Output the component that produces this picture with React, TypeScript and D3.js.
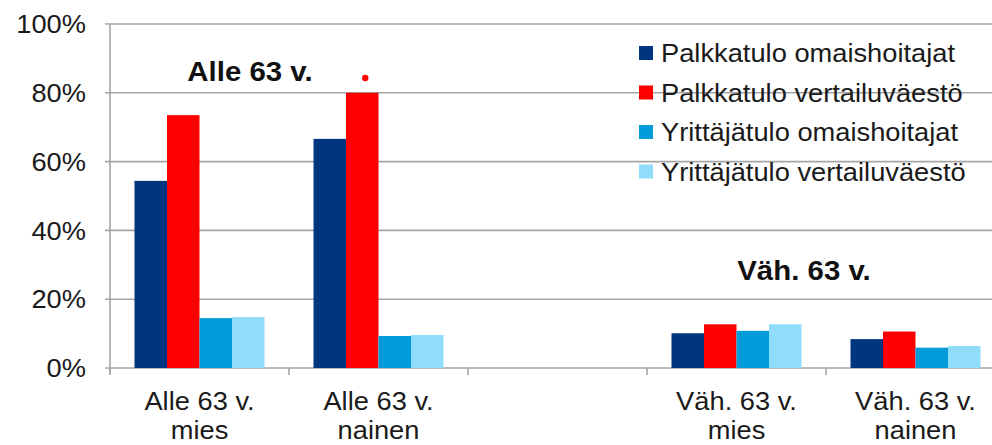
import React from 'react'
import * as d3 from 'd3'

const W = 992
const H = 445
const margin = {top: 24, right: -13, bottom: 77, left: 110}
const FONT = '"Liberation Sans", Arial, sans-serif'
const SX = 1.07 // the source picture is slightly stretched horizontally

// categories (the third slot is an empty gap in the original chart)
const categories = ['Alle 63 v.|mies', 'Alle 63 v.|nainen', '', 'Väh. 63 v.|mies', 'Väh. 63 v.|nainen']
const series = ['Palkkatulo omaishoitajat', 'Palkkatulo vertailuväestö', 'Yrittäjätulo omaishoitajat', 'Yrittäjätulo vertailuväestö']
const colors = ['#00357f', '#ff0000', '#009bd9', '#8fdcfb']

// values per series, in %, for the four filled categories
const palkkaOmais = [54.4, 66.6, 10.1, 8.4]
const palkkaVert = [73.5, 80.0, 12.7, 10.6]
const yrittajaOmais = [14.5, 9.3, 10.8, 5.9]
const yrittajaVert = [14.8, 9.6, 12.7, 6.4]
const values = [palkkaOmais, palkkaVert, yrittajaOmais, yrittajaVert]
const filled = [0, 1, 3, 4] // category index for each value

const yTicks = [0, 20, 40, 60, 80, 100]

function T(props: {x: number, y: number, anchor?: string, size: number, bold?: boolean, dy?: string, children: any}) {
  return (
    <g transform={`translate(${props.x},${props.y}) scale(${SX},1)`}>
      <text x={0} y={0} dy={props.dy} textAnchor={props.anchor || 'start'} fontSize={props.size}
        fontWeight={props.bold ? 'bold' : 'normal'} fill={props.bold ? '#111' : '#1a1a1a'}>{props.children}</text>
    </g>
  )
}

export default function App() {
  const x0 = d3.scaleBand().domain(categories.map((c, i) => String(i))).range([margin.left, W - margin.right]).padding(0)
  const step = x0.bandwidth()
  const x1 = d3.scaleBand().domain(series).range([24.5, step - 24.5]).padding(0)
  const y = d3.scaleLinear().domain([0, 100]).range([H - margin.bottom, margin.top])

  const bars: {x: number, y: number, w: number, h: number, c: string}[] = []
  values.forEach((vals, s) => {
    vals.forEach((v, k) => {
      const cx = (x0(String(filled[k])) as number) + (x1(series[s]) as number)
      bars.push({x: cx, y: y(v), w: x1.bandwidth(), h: y(0) - y(v), c: colors[s]})
    })
  })

  const redDotX = (x0('1') as number) + (x1(series[1]) as number) + x1.bandwidth() / 2 + 3

  return (
    <svg width={W} height={H} style={{position: 'absolute', left: 0, top: 0, background: '#fff'}} fontFamily={FONT}>
      {/* gridlines and y ticks */}
      {yTicks.map(t => (
        <g key={t}>
          <line x1={margin.left - 5} x2={W} y1={y(t)} y2={y(t)} stroke="#a6a6a6" strokeWidth={1.6} />
          <T x={86} y={y(t)} dy="0.36em" anchor="end" size={25.5}>{t}%</T>
        </g>
      ))}
      <line x1={margin.left} x2={margin.left} y1={y(100)} y2={y(0) + 6} stroke="#a6a6a6" strokeWidth={1.6} />
      {categories.map((c, i) => (
        <line key={'t' + i} x1={x0(String(i)) as number} x2={x0(String(i)) as number} y1={y(0)} y2={y(0) + 7} stroke="#a6a6a6" strokeWidth={1.6} />
      ))}
      <line x1={(x0('4') as number) + step} x2={(x0('4') as number) + step} y1={y(0)} y2={y(0) + 7} stroke="#a6a6a6" strokeWidth={1.6} />

      {bars.map((b, i) => (
        <rect key={i} x={b.x} y={b.y} width={b.w} height={b.h} fill={b.c} />
      ))}

      {/* category labels */}
      {categories.map((c, i) => c ? (
        <g key={'c' + i}>
          {c.split('|').map((line, j) => (
            <T key={j} x={(x0(String(i)) as number) + step / 2} y={410 + j * 29} anchor="middle" size={25.5}>{line}</T>
          ))}
        </g>
      ) : null)}

      {/* group annotations */}
      <T x={250} y={y(83.5)} anchor="middle" size={27.5} bold>Alle 63 v.</T>
      <T x={804} y={y(25.5)} anchor="middle" size={27.5} bold>Väh. 63 v.</T>
      <circle cx={redDotX} cy={y(84.3)} r={3.2} fill="#ff0000" />

      {/* legend */}
      {series.map((s, i) => (
        <g key={s} transform={`translate(639, ${53 + i * 39.5})`}>
          <rect x={0} y={-7} width={14} height={14} fill={colors[i]} />
          <T x={22} y={0} dy="0.36em" size={25.5}>{s}</T>
        </g>
      ))}
    </svg>
  )
}
